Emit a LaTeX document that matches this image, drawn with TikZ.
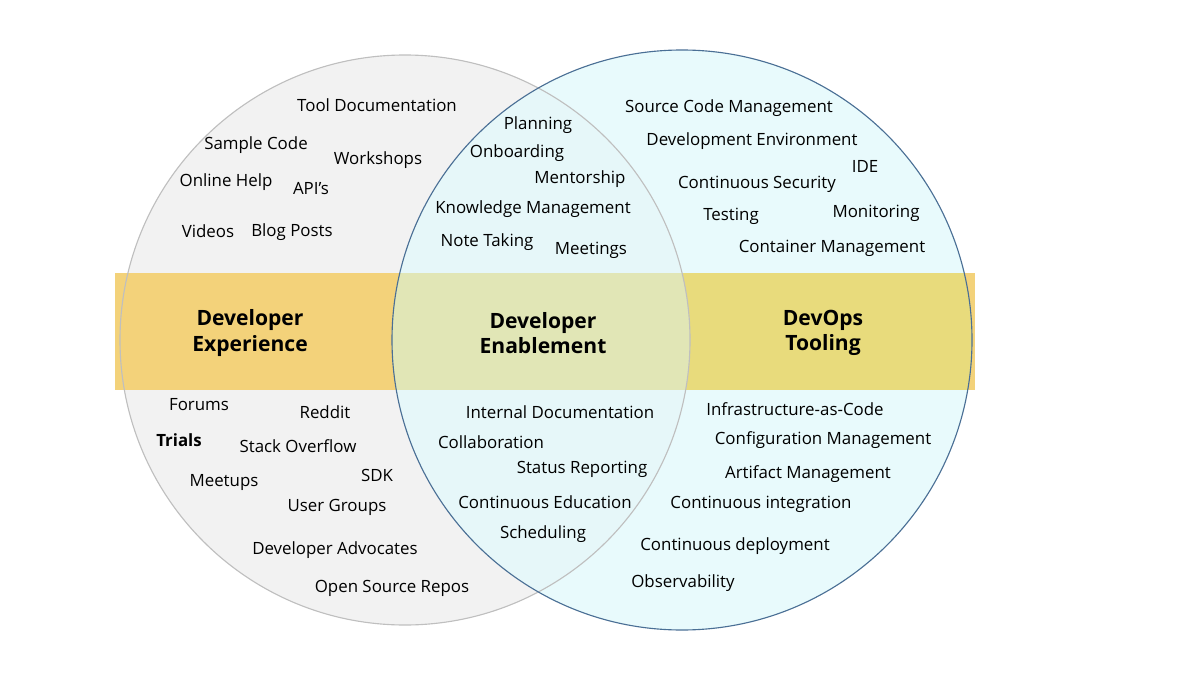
\documentclass[tikz,border=0pt]{standalone}
\usepackage{fontspec}
\setmainfont{Open Sans}
\definecolor{leftfill}{HTML}{F2F2F2}
\definecolor{leftline}{HTML}{BFBFBF}
\definecolor{rightfill}{HTML}{E4F9FB}
\definecolor{rightline}{HTML}{4A6F95}
\definecolor{bandleft}{HTML}{F3D27A}
\definecolor{bandright}{HTML}{E8DB7C}
\definecolor{bandmid}{HTML}{E1E6B6}
\begin{document}
\begin{tikzpicture}[x=0.025cm,y=-0.025cm,
item/.style={font=\fontsize{12}{14}\selectfont,anchor=center,inner sep=0pt},
itemB/.style={item,font=\fontsize{12}{14}\selectfont\bfseries},
titolo/.style={font=\fontsize{15}{18}\selectfont\bfseries,align=center}
]
\useasboundingbox (0,0) rectangle (1200,675);
%-- cerchi
\fill[leftfill] (405,340) circle (285);
\fill[rightfill,opacity=0.85] (682,340) circle (290);
%-- fascia
\fill[bandleft] (115,273) rectangle (975,390);
\begin{scope}
\clip (682,340) circle (290);
\fill[bandright] (115,273) rectangle (975,390);
\clip (405,340) circle (285);
\fill[bandmid] (115,273) rectangle (975,390);
\end{scope}
\draw[leftline,line width=0.8pt] (405,340) circle (285);
\draw[rightline,line width=0.8pt] (682,340) circle (290);
%-- titoli
\node[titolo] (dx) at (250,333) {Developer\\Experience};
\node[titolo] (de) at (543,333) {Developer\\Enablement};
\node[titolo] (dt) at (823,333) {DevOps\\Tooling};
%-- sinistra alto
\node[item] (a1) at (377,105) {Tool Documentation};
\node[item] (a2) at (256,145) {Sample Code};
\node[item] (a3) at (378,160) {Workshops};
\node[item] (a4) at (226,182) {Online Help};
\node[item] (a5) at (311,189) {API’s};
\node[item] (a6) at (208,231) {Videos};
\node[item] (a7) at (292,232) {Blog Posts};
%-- centro alto
\node[item] (b1) at (538,125) {Planning};
\node[item] (b2) at (517,153) {Onboarding};
\node[item] (b3) at (580,179) {Mentorship};
\node[item] (b4) at (533,209) {Knowledge Management};
\node[item] (b5) at (487,242) {Note Taking};
\node[item] (b6) at (591,250) {Meetings};
%-- destra alto
\node[item] (c1) at (729,108) {Source Code Management};
\node[item] (c2) at (752,141) {Development Environment};
\node[item] (c3) at (865,166) {IDE};
\node[item] (c4) at (757,184) {Continuous Security};
\node[item] (c5) at (731,216) {Testing};
\node[item] (c6) at (876,213) {Monitoring};
\node[item] (c7) at (832,248) {Container Management};
%-- sinistra basso
\node[item] (d1) at (199,405) {Forums};
\node[item] (d2) at (325,412) {Reddit};
\node[itemB] (d3) at (179,440) {Trials};
\node[item] (d4) at (298,446) {Stack Overflow};
\node[item] (d5) at (377,475) {SDK};
\node[item] (d6) at (224,482) {Meetups};
\node[item] (d7) at (337,507) {User Groups};
\node[item] (d8) at (335,550) {Developer Advocates};
\node[item] (d9) at (392,588) {Open Source Repos};
%-- centro basso
\node[item] (e1) at (560,412) {Internal Documentation};
\node[item] (e2) at (491,442) {Collaboration};
\node[item] (e3) at (582,469) {Status Reporting};
\node[item] (e4) at (545,502) {Continuous Education};
\node[item] (e5) at (543,534) {Scheduling};
%-- destra basso
\node[item] (f1) at (795,409) {Infrastructure-as-Code};
\node[item] (f2) at (823,440) {Configuration Management};
\node[item] (f3) at (808,474) {Artifact Management};
\node[item] (f4) at (761,504) {Continuous integration};
\node[item] (f5) at (735,546) {Continuous deployment};
\node[item] (f6) at (683,583) {Observability};
\end{tikzpicture}
\end{document}
